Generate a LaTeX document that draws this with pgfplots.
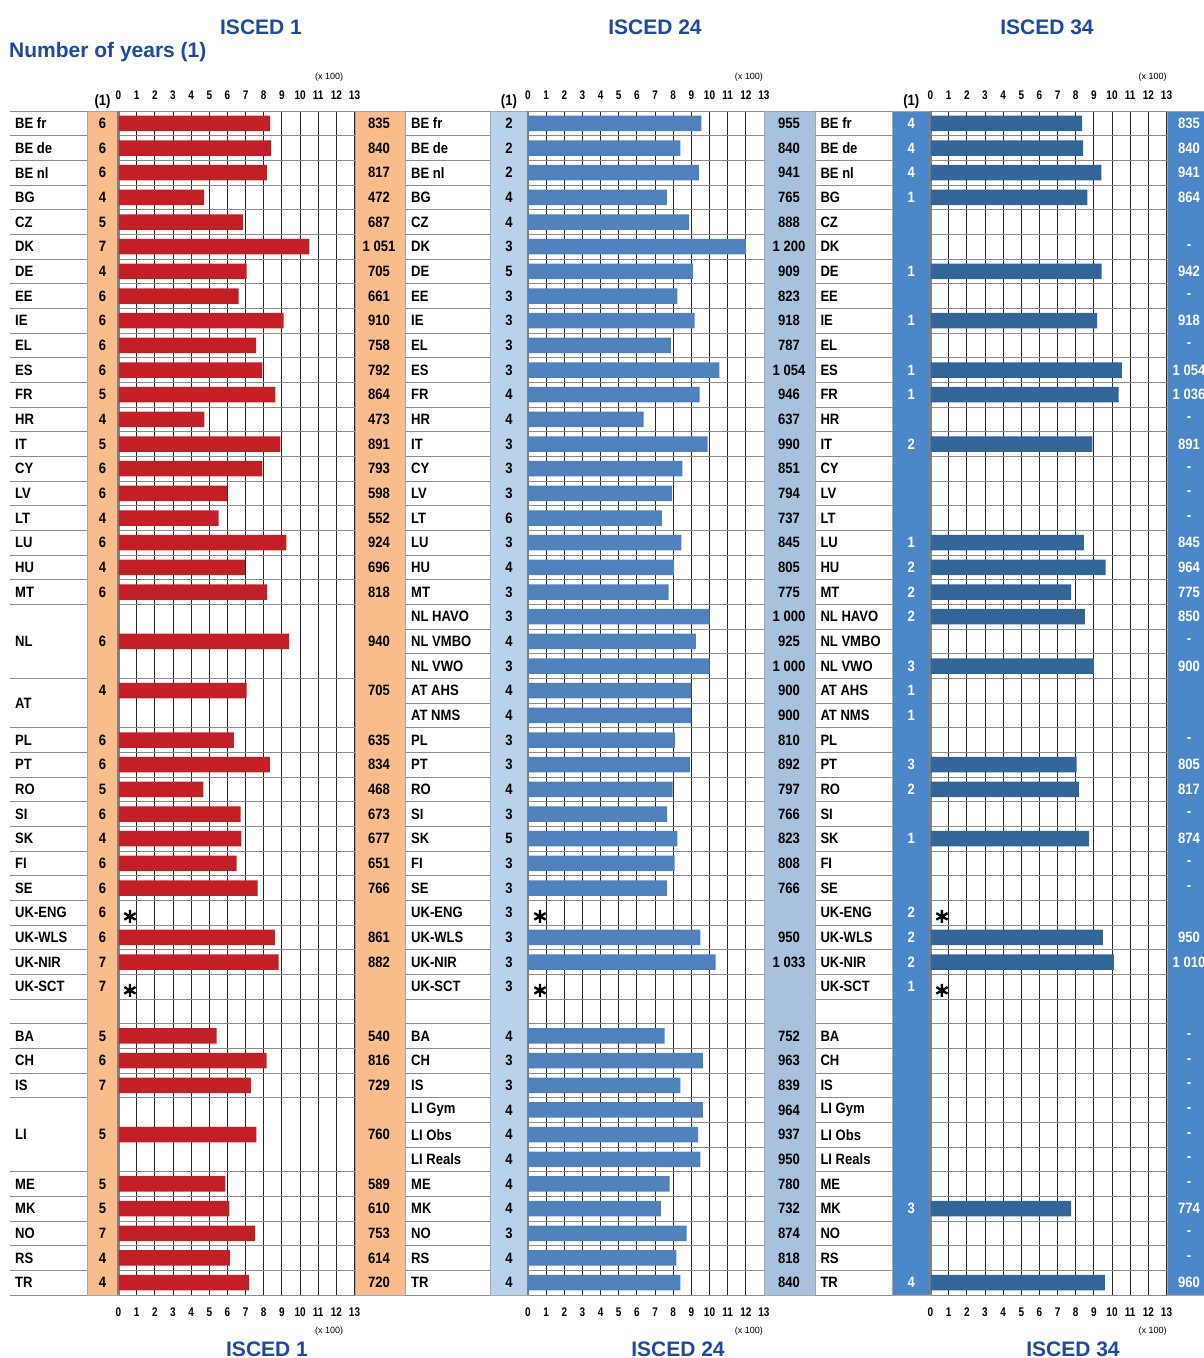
\documentclass[border=0pt]{standalone}
\usepackage{pgfplots}
\pgfplotsset{compat=1.18}
\usepackage{pgfplotstable}
\usepackage{fontspec}
\setmainfont{Liberation Sans}
\newfontfamily\narrowsans[FakeStretch=0.87]{Liberation Sans}
\newfontfamily\ticksans[FakeStretch=0.8]{Liberation Sans}

\definecolor{ttl}{RGB}{31,73,158}
\definecolor{redbar}{RGB}{196,30,38}
\definecolor{peach}{RGB}{249,189,140}
\definecolor{bluebar}{RGB}{79,129,189}
\definecolor{paleblue}{RGB}{185,210,236}
\definecolor{paleblue2}{RGB}{168,194,222}
\definecolor{darkbar}{RGB}{51,102,152}
\definecolor{midblue}{RGB}{74,134,200}

\newcommand\lblfont{\narrowsans\bfseries\fontsize{15}{17}\selectfont}
\newcommand\tickfont{\ticksans\bfseries\fontsize{12.5}{14}\selectfont}
\newcommand\smallfont{\fontsize{9}{10}\selectfont}
\newcommand\ttlfont{\bfseries\fontsize{21}{24}\selectfont}

% ISCED 1: row, label row, label, years, value text
\pgfplotstableread{
r lr lab yr vt
0 0 {BE fr} 6 835
1 1 {BE de} 6 840
2 2 {BE nl} 6 817
3 3 BG 4 472
4 4 CZ 5 687
5 5 DK 7 {1 051}
6 6 DE 4 705
7 7 EE 6 661
8 8 IE 6 910
9 9 EL 6 758
10 10 ES 6 792
11 11 FR 5 864
12 12 HR 4 473
13 13 IT 5 891
14 14 CY 6 793
15 15 LV 6 598
16 16 LT 4 552
17 17 LU 6 924
18 18 HU 4 696
19 19 MT 6 818
21 21 NL 6 940
23 23.5 AT 4 705
25 25 PL 6 635
26 26 PT 6 834
27 27 RO 5 468
28 28 SI 6 673
29 29 SK 4 677
30 30 FI 6 651
31 31 SE 6 766
32 32 UK-ENG 6 {}
33 33 UK-WLS 6 861
34 34 UK-NIR 7 882
35 35 UK-SCT 7 {}
37 37 BA 5 540
38 38 CH 6 816
39 39 IS 7 729
41 41 LI 5 760
43 43 ME 5 589
44 44 MK 5 610
45 45 NO 7 753
46 46 RS 4 614
47 47 TR 4 720
}\tA
\pgfplotstableread{
r v
0 835
1 840
2 817
3 472
4 687
5 1051
6 705
7 661
8 910
9 758
10 792
11 864
12 473
13 891
14 793
15 598
16 552
17 924
18 696
19 818
21 940
23 705
25 635
26 834
27 468
28 673
29 677
30 651
31 766
33 861
34 882
37 540
38 816
39 729
41 760
43 589
44 610
45 753
46 614
47 720
}\bA

% ISCED 24
\pgfplotstableread{
r lab yr vt
0 {BE fr} 2 955
1 {BE de} 2 840
2 {BE nl} 2 941
3 BG 4 765
4 CZ 4 888
5 DK 3 {1 200}
6 DE 5 909
7 EE 3 823
8 IE 3 918
9 EL 3 787
10 ES 3 {1 054}
11 FR 4 946
12 HR 4 637
13 IT 3 990
14 CY 3 851
15 LV 3 794
16 LT 6 737
17 LU 3 845
18 HU 4 805
19 MT 3 775
20 {NL HAVO} 3 {1 000}
21 {NL VMBO} 4 925
22 {NL VWO} 3 {1 000}
23 {AT AHS} 4 900
24 {AT NMS} 4 900
25 PL 3 810
26 PT 3 892
27 RO 4 797
28 SI 3 766
29 SK 5 823
30 FI 3 808
31 SE 3 766
32 UK-ENG 3 {}
33 UK-WLS 3 950
34 UK-NIR 3 {1 033}
35 UK-SCT 3 {}
37 BA 4 752
38 CH 3 963
39 IS 3 839
40 {LI Gym} 4 964
41 {LI Obs} 4 937
42 {LI Reals} 4 950
43 ME 4 780
44 MK 4 732
45 NO 3 874
46 RS 4 818
47 TR 4 840
}\tB
\pgfplotstableread{
r v
0 955
1 840
2 941
3 765
4 888
5 1200
6 909
7 823
8 918
9 787
10 1054
11 946
12 637
13 990
14 851
15 794
16 737
17 845
18 805
19 775
20 1000
21 925
22 1000
23 900
24 900
25 810
26 892
27 797
28 766
29 823
30 808
31 766
33 950
34 1033
37 752
38 963
39 839
40 964
41 937
42 950
43 780
44 732
45 874
46 818
47 840
}\bB

% ISCED 34
\pgfplotstableread{
r lab yr vt
0 {BE fr} 4 835
1 {BE de} 4 840
2 {BE nl} 4 941
3 BG 1 864
4 CZ {} {}
5 DK {} -
6 DE 1 942
7 EE {} -
8 IE 1 918
9 EL {} -
10 ES 1 {1 054}
11 FR 1 {1 036}
12 HR {} -
13 IT 2 891
14 CY {} -
15 LV {} -
16 LT {} -
17 LU 1 845
18 HU 2 964
19 MT 2 775
20 {NL HAVO} 2 850
21 {NL VMBO} {} -
22 {NL VWO} 3 900
23 {AT AHS} 1 {}
24 {AT NMS} 1 {}
25 PL {} -
26 PT 3 805
27 RO 2 817
28 SI {} -
29 SK 1 874
30 FI {} -
31 SE {} -
32 UK-ENG 2 {}
33 UK-WLS 2 950
34 UK-NIR 2 {1 010}
35 UK-SCT 1 {}
37 BA {} -
38 CH {} -
39 IS {} -
40 {LI Gym} {} -
41 {LI Obs} {} -
42 {LI Reals} {} -
43 ME {} -
44 MK 3 774
45 NO {} -
46 RS {} -
47 TR 4 960
}\tC
\pgfplotstableread{
r v
0 835
1 840
2 941
3 864
6 942
8 918
10 1054
11 1036
13 891
17 845
18 964
19 775
20 850
22 900
26 805
27 817
29 874
33 950
34 1010
44 774
47 960
}\bC

\tikzset{col/.style={fill=#1, draw=black!35, line width=0.6pt}}

\pgfplotsset{
  panel/.style={
    scale only axis, height=1184pt,
    ymin=-0.5, ymax=47.5, y dir=reverse,
    axis line style={draw=none},
    major tick length=0pt,
    xtick={0,...,13}, xticklabels={},
    yticklabels={},
    xmajorgrids, ymajorgrids,
    x grid style={black!85, line width=0.9pt},
    y grid style={black!45, line width=0.8pt},
    clip=false,
    anchor=north west,
  },
  txt/.style={draw=none, mark=none, point meta=explicit symbolic, nodes near coords,
    every node near coord/.append style={font=\lblfont, inner sep=0pt, text=#1, anchor=center}},
  txt/.default=black,
  bars/.style={xbar, bar width=15.5pt, draw=none, fill=#1},
  star/.style={only marks, mark=asterisk, mark size=6.5pt, line width=2.4pt, black},
}

\newcommand\scaleticks[2]{% #1 = x of (x 100), #2 = x of (1)
  \draw[black!50, line width=2.2pt] (axis cs:0,-0.5) -- (axis cs:0,47.5);
  \pgfplotsinvokeforeach{0,...,13}{
    \node[font=\tickfont, yshift=16pt] at (axis cs:##1,-0.5) {##1};
    \node[font=\tickfont, yshift=-17pt] at (axis cs:##1,47.5) {##1};
  }
  \node[font=\smallfont, yshift=34pt] at (axis cs:#1,-0.5) {(x 100)};
  \node[font=\smallfont, yshift=-36pt] at (axis cs:#1,47.5) {(x 100)};
  \node[font=\lblfont, yshift=9pt] at (axis cs:#2,-0.5) {(1)};
}

\begin{document}
\begin{tikzpicture}
\useasboundingbox (0,0) rectangle (1204pt,-1358pt);

\node[font=\ttlfont, text=ttl] at (261pt,-27pt) {ISCED 1};
\node[font=\ttlfont, text=ttl] at (655pt,-27pt) {ISCED 24};
\node[font=\ttlfont, text=ttl] at (1047pt,-27pt) {ISCED 34};
\node[font=\ttlfont, text=ttl, anchor=west, inner sep=0pt] at (9pt,-52pt) {Number of years (1)};
\node[font=\ttlfont, text=ttl] at (267pt,-1349pt) {ISCED 1};
\node[font=\ttlfont, text=ttl] at (678pt,-1349pt) {ISCED 24};
\node[font=\ttlfont, text=ttl] at (1073pt,-1349pt) {ISCED 34};

% ISCED 1
\begin{axis}[panel, at={(10pt,-111pt)}, width=395pt, xmin=-5.977, xmax=15.78,
  ytick={-0.5,0.5,...,19.5,22.5,24.5,25.5,...,39.5,42.5,43.5,...,47.5}]
  \fill[col=peach] (axis cs:-1.735,-0.5) rectangle (axis cs:0,47.5);
  \fill[col=peach] (axis cs:13.03,-0.5) rectangle (axis cs:15.78,47.5);
  \scaleticks{11.6}{-0.88}
  \addplot[bars=redbar] table[x expr=\thisrow{v}/100, y=r] {\bA};
  \addplot[star] coordinates {(0.63,32.15) (0.63,35.15)};
  \addplot[txt, every node near coord/.append style={anchor=west}] table[x expr=-5.70, y=lr, meta=lab] {\tA};
  \addplot[txt] table[x expr=-0.88, y=r, meta=yr] {\tA};
  \addplot[txt] table[x expr=14.35, y=r, meta=vt] {\tA};
\end{axis}

% ISCED 24
\begin{axis}[panel, at={(405pt,-111pt)}, width=410pt, xmin=-6.775, xmax=15.81,
  ytick={-0.5,0.5,...,47.5}]
  \fill[col=paleblue] (axis cs:-2.093,-0.5) rectangle (axis cs:0,47.5);
  \fill[col=paleblue2] (axis cs:13,-0.5) rectangle (axis cs:15.81,47.5);
  \scaleticks{12.17}{-1.05}
  \addplot[bars=bluebar] table[x expr=\thisrow{v}/100, y=r] {\bB};
  \addplot[star] coordinates {(0.66,32.15) (0.66,35.15)};
  \addplot[txt, every node near coord/.append style={anchor=west}] table[x expr=-6.445, y=r, meta=lab] {\tB};
  \addplot[txt] table[x expr=-1.05, y=r, meta=yr] {\tB};
  \addplot[txt] table[x expr=14.38, y=r, meta=vt] {\tB};
\end{axis}

% ISCED 34
\begin{axis}[panel, at={(815pt,-111pt)}, width=389pt, xmin=-6.362, xmax=15.065,
  ytick={-0.5,0.5,...,47.5}]
  \fill[col=midblue] (axis cs:-2.121,-0.5) rectangle (axis cs:0,47.5);
  \fill[col=midblue] (axis cs:13.05,-0.5) rectangle (axis cs:15.065,47.5);
  \scaleticks{12.24}{-1.06}
  \addplot[bars=darkbar] table[x expr=\thisrow{v}/100, y=r] {\bC};
  \addplot[star] coordinates {(0.63,32.15) (0.63,35.15)};
  \addplot[txt, every node near coord/.append style={anchor=west}] table[x expr=-6.07, y=r, meta=lab] {\tC};
  \addplot[txt=white] table[x expr=-1.06, y=r, meta=yr] {\tC};
  \addplot[txt=white] table[x expr=14.24, y=r, meta=vt] {\tC};
\end{axis}
\end{tikzpicture}
\end{document}
